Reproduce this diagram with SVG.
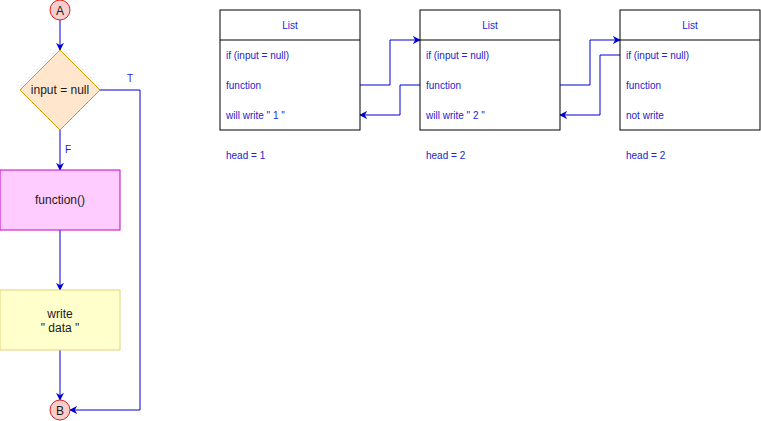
<svg xmlns="http://www.w3.org/2000/svg" width="761" height="421" viewBox="0 0 761 421">
<style>
text{font-family:"Liberation Sans",Arial,sans-serif}
.fc{font-size:12px;fill:#1a1a1a;text-anchor:middle}
.lb{font-size:10px;fill:#2424cc}
.mid{text-anchor:middle}
.edge{fill:none;stroke:#0000CC;stroke-width:1}
.box{fill:#ffffff;stroke:#000000;stroke-width:1}
</style>
<defs>
<marker id="ah" viewBox="0 0 10 10" refX="9" refY="5" markerWidth="8" markerHeight="8" markerUnits="userSpaceOnUse" orient="auto">
<path d="M0,0 L10,5 L0,10 L3,5 Z" fill="#0000CC"/>
</marker>
</defs>
<rect width="761" height="421" fill="#ffffff"/>
<g id="connectors">
<path class="edge" d="M60,20 L60,50" marker-end="url(#ah)"/>
<path class="edge" d="M100,90 L140,90 L140,410 L70,410" marker-end="url(#ah)"/>
<path class="edge" d="M60,130 L60,170" marker-end="url(#ah)"/>
<path class="edge" d="M60,230 L60,290" marker-end="url(#ah)"/>
<path class="edge" d="M60,350 L60,400" marker-end="url(#ah)"/>
<path class="edge" d="M360,85 L390,85 L390,40 L420,40" marker-end="url(#ah)"/>
<path class="edge" d="M420,85 L400,85 L400,115 L360,115" marker-end="url(#ah)"/>
<path class="edge" d="M560,85 L590,85 L590,40 L620,40" marker-end="url(#ah)"/>
<path class="edge" d="M620,55 L600,55 L600,115 L560,115" marker-end="url(#ah)"/>
<text class="lb" x="130" y="82" text-anchor="middle">T</text>
<text class="lb" x="68" y="153" text-anchor="middle">F</text>
</g>
<g id="nodeA">
<circle cx="60" cy="10" r="10" fill="#f8cecc" stroke="#e02020"/>
<text class="fc" x="60" y="14.5">A</text>
</g>
<g id="decision">
<path d="M60,50 L100,90 L60,130 L20,90 Z" fill="#ffe6cc" stroke="#d79b00"/>
<text class="fc" x="60" y="94">input = null</text>
</g>
<g id="function">
<rect x="0" y="170" width="120" height="60" fill="#ffccff" stroke="#cc00cc"/>
<text class="fc" x="60" y="204">function()</text>
</g>
<g id="write">
<rect x="0" y="290" width="120" height="60" fill="#ffffcc" stroke="#e8d27a"/>
<text class="fc" x="60" y="317.5">write</text>
<text class="fc" x="60" y="331.5">" data "</text>
</g>
<g id="nodeB">
<circle cx="60" cy="410" r="10" fill="#f8cecc" stroke="#e02020"/>
<text class="fc" x="60" y="414.5">B</text>
</g>
<g id="list1">
<rect class="box" x="220" y="10" width="140" height="120"/>
<line x1="220" y1="40" x2="360" y2="40" stroke="#000"/>
<text class="lb mid" x="290" y="29">List</text>
<text class="lb" x="226" y="59">if (input = null)</text>
<text class="lb" x="226" y="89">function</text>
<text class="lb" x="226" y="119">will write " 1 "</text>
</g>
<g id="list2">
<rect class="box" x="420" y="10" width="140" height="120"/>
<line x1="420" y1="40" x2="560" y2="40" stroke="#000"/>
<text class="lb mid" x="490" y="29">List</text>
<text class="lb" x="426" y="59">if (input = null)</text>
<text class="lb" x="426" y="89">function</text>
<text class="lb" x="426" y="119">will write " 2 "</text>
</g>
<g id="list3">
<rect class="box" x="620" y="10" width="140" height="120"/>
<line x1="620" y1="40" x2="760" y2="40" stroke="#000"/>
<text class="lb mid" x="690" y="29">List</text>
<text class="lb" x="626" y="59">if (input = null)</text>
<text class="lb" x="626" y="89">function</text>
<text class="lb" x="626" y="119">not write</text>
</g>
<g id="heads">
<text class="lb" x="226" y="159">head = 1</text>
<text class="lb" x="426" y="159">head = 2</text>
<text class="lb" x="626" y="159">head = 2</text>
</g>
</svg>
